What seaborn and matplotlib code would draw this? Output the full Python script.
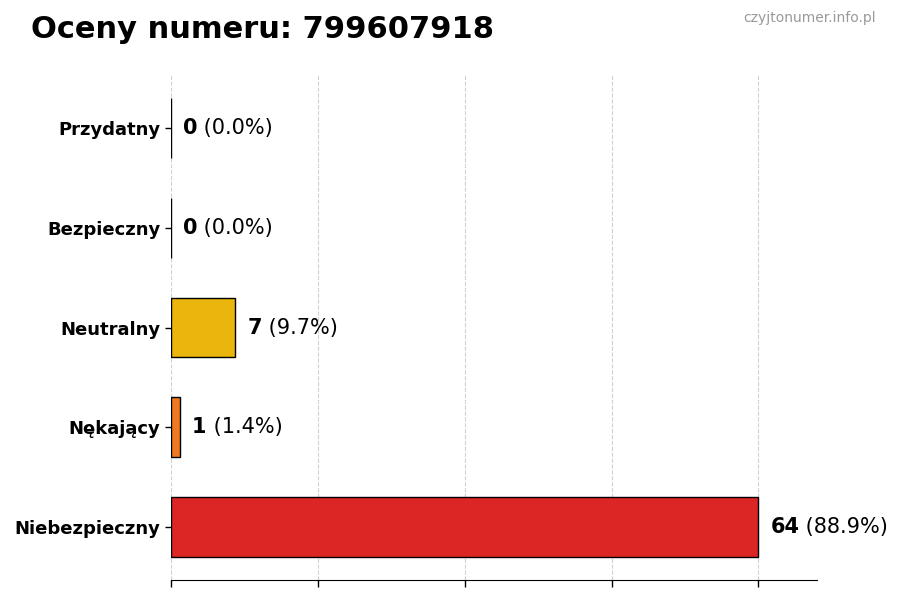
import matplotlib
matplotlib.use("Agg")
import matplotlib.pyplot as plt
import pandas as pd
import seaborn as sns

phone_number = "799607918"
categories = ["Przydatny", "Bezpieczny", "Neutralny", "Nękający", "Niebezpieczny"]
counts = [0, 0, 7, 1, 64]
bar_colors = ["#2e9e44", "#2f6fd0", "#eab50c", "#f07820", "#dc2626"]

total = sum(counts)
df = pd.DataFrame({"kategoria": categories, "liczba": counts})

sns.set_style("white")
plt.rcParams["font.family"] = ["DejaVu Sans"]
plt.rcParams["text.color"] = "black"
plt.rcParams["axes.labelcolor"] = "black"
plt.rcParams["xtick.color"] = "black"
plt.rcParams["ytick.color"] = "black"

fig = plt.figure(figsize=(9, 6), dpi=100)
ax = fig.add_axes([0.19, 0.0333, 0.718, 0.8417])

sns.barplot(
    data=df,
    x="liczba",
    y="kategoria",
    hue="kategoria",
    palette=bar_colors,
    saturation=1,
    legend=False,
    width=0.6,
    edgecolor="black",
    linewidth=1,
    ax=ax,
)

ax.set_xlim(0, max(counts) * 1.1)
ax.set_ylim(4.53, -0.53)
ax.set_xticks([0, 16, 32, 48, 64])
ax.set_xticklabels([])
ax.xaxis.grid(True, linestyle="--", color="#d0d0d0", linewidth=0.8)
ax.set_axisbelow(True)
ax.set_xlabel("")
ax.set_ylabel("")
ax.tick_params(axis="x", bottom=True, length=5, width=1, color="black")
ax.tick_params(axis="y", left=True, length=4, width=1, color="black",
               labelsize=13, labelcolor="black")
for lbl in ax.get_yticklabels():
    lbl.set_fontweight("bold")

sns.despine(ax=ax, left=True, top=True, right=True)
ax.spines["bottom"].set_color("black")

for i, c in enumerate(counts):
    pct = 100 * c / total if total else 0
    t1 = ax.annotate(
        f"{c}", xy=(c, i), xytext=(8.6, 0), textcoords="offset points",
        ha="left", va="center", fontsize=15, fontweight="bold", color="black",
    )
    ax.annotate(
        f" ({pct:.1f}%)", xy=(1, 0.5), xycoords=t1,
        ha="left", va="center", fontsize=15, color="black",
    )

fig.text(0.034, 0.95, f"Oceny numeru: {phone_number}", fontsize=22,
         fontweight="bold", ha="left", va="center", color="black")
fig.text(0.973, 0.97, "czyjtonumer.info.pl", fontsize=10, color="#999999",
         ha="right", va="center")

fig.savefig("out.png", dpi=100)
